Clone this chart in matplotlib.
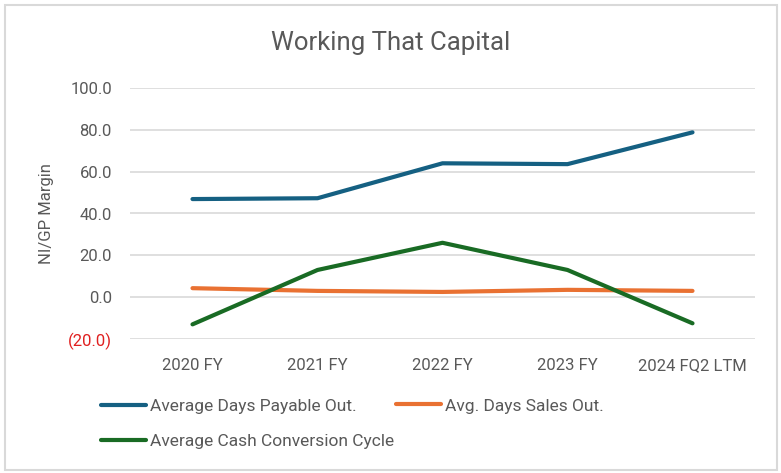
import matplotlib
matplotlib.use("Agg")
import matplotlib.pyplot as plt
from matplotlib.patches import Rectangle

categories = ["2020 FY", "2021 FY", "2022 FY", "2023 FY", "2024 FQ2 LTM"]
dpo = [46.9, 47.3, 64.0, 63.6, 78.8]
dso = [4.3, 3.0, 2.5, 3.5, 3.0]
ccc = [-13.0, 13.0, 26.0, 13.0, -12.5]
yticks = [-20, 0, 20, 40, 60, 80, 100]
ytick_labels = ["(20.0)", "0.0", "20.0", "40.0", "60.0", "80.0", "100.0"]
series_names = ["Average Days Payable Out.", "Avg. Days Sales Out.", "Average Cash Conversion Cycle"]

plt.rcParams['font.family'] = ['Roboto', 'DejaVu Sans']

W, H = 781, 473
fig = plt.figure(figsize=(W/100, H/100), dpi=100)
fig.patch.set_facecolor("white")
fig.add_artist(Rectangle((5/W, 3/H), 772/W, 465/H, transform=fig.transFigure,
                         fill=False, edgecolor="#d9d9d9", linewidth=1.5))

ax = fig.add_axes([130/W, 1-339/H, 625/W, (339-88)/H])
x = list(range(len(categories)))
cols = ["#156082", "#E97132", "#196B24"]
lines = []
for vals, c, n in zip([dpo, dso, ccc], cols, series_names):
    l, = ax.plot(x, vals, color=c, linewidth=3, solid_capstyle="round", label=n, zorder=3)
    lines.append(l)

ax.set_xlim(-0.5, len(categories)-0.5)
ax.set_ylim(-20, 100)
ax.set_yticks(yticks)
ax.set_yticklabels(ytick_labels)
ax.set_xticks(x)
ax.set_xticklabels(categories)
ax.grid(axis="y", color="#d9d9d9", linewidth=1.2)
ax.set_axisbelow(True)
for s in ax.spines.values():
    s.set_visible(False)
ax.tick_params(length=0, labelsize=12, labelcolor="#595959")
ax.tick_params(axis="y", pad=13)
ax.tick_params(axis="x", pad=14)
ax.get_yticklabels()[0].set_color("#e02020")
ax.set_ylabel("NI/GP Margin", fontsize=12, color="#595959", labelpad=10)

fig.text(391/W, 1-43/H, "Working That Capital", ha="center", va="center",
         fontsize=18.5, color="#595959")

common = dict(loc="center left", frameon=False, fontsize=12.5, labelcolor="#595959",
              handlelength=2.6, handletextpad=0.2, borderpad=0, borderaxespad=0,
              labelspacing=1.15)
leg1 = fig.legend([lines[0], lines[2]], [series_names[0], series_names[2]],
                  bbox_to_anchor=(101/W, 1-424/H), **common)
leg2 = fig.legend([lines[1]], [series_names[1]],
                  bbox_to_anchor=(396/W, 1-406/H), **common)

fig.savefig("out.png", dpi=100)
